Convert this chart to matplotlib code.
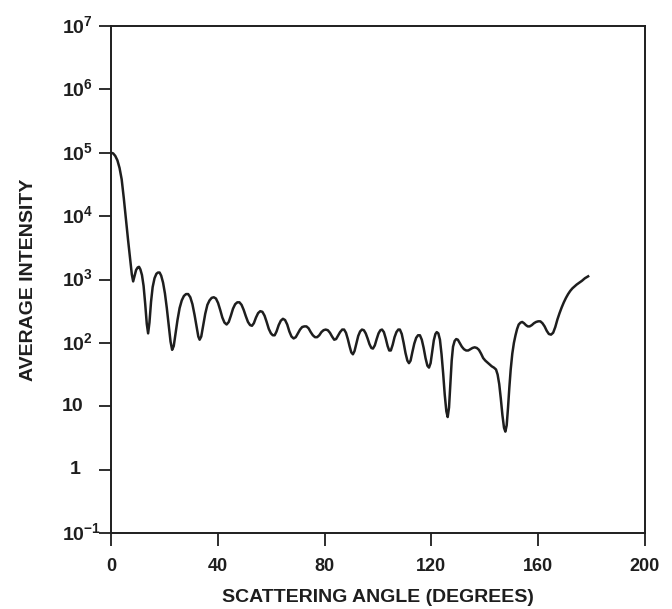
import numpy as np
import matplotlib
matplotlib.use("Agg")
import matplotlib.pyplot as plt
import matplotlib.transforms as mtransforms
from matplotlib.ticker import FixedLocator, NullFormatter, NullLocator

# Scattering angle (degrees) and log10 of average intensity
angle = [
    0.0, 0.8, 1.6, 2.4, 3.2, 4.0, 4.8, 5.6, 6.4, 7.2, 7.8, 8.3, 8.8, 9.4, 10.0,
    10.5, 11.0, 11.6, 12.2, 12.8, 13.4, 13.9, 14.4, 15.0, 15.6, 16.3, 17.0, 17.6,
    18.2, 18.8, 19.5, 20.2, 20.9, 21.6, 22.3, 22.9, 23.5, 24.2, 24.9, 25.7, 26.5,
    27.3, 28.1, 28.9, 29.7, 30.5, 31.3, 32.1, 32.7, 33.2, 33.8, 34.5, 35.3, 36.1,
    36.9, 37.7, 38.5, 39.3, 40.1, 40.9, 41.7, 42.5, 43.3, 44.1, 44.9, 45.7, 46.5,
    47.3, 48.1, 48.9, 49.7, 50.5, 51.3, 52.1, 52.8, 53.5, 54.3, 55.1, 55.9, 56.7,
    57.5, 58.3, 59.1, 59.9, 60.6, 61.3, 62.0, 62.8, 63.6, 64.4, 65.2, 66.0, 66.8,
    67.6, 68.4, 69.2, 70.0, 70.8, 71.6, 72.4, 73.2, 74.0, 74.8, 75.6, 76.4, 77.2,
    78.0, 78.8, 79.6, 80.4, 81.2, 82.0, 82.8, 83.6, 84.3, 85.0, 85.8, 86.6, 87.3,
    88.0, 88.7, 89.4, 90.0, 90.6, 91.2, 91.9, 92.6, 93.3, 94.0, 94.7, 95.4, 96.1,
    96.8, 97.5, 98.1, 98.8, 99.5, 100.2, 100.9, 101.5, 102.2, 102.9, 103.6, 104.2,
    104.8, 105.5, 106.2, 106.9, 107.6, 108.2, 108.9, 109.6, 110.3, 111.0, 111.6,
    112.2, 112.9, 113.6, 114.3, 115.0, 115.7, 116.4, 117.1, 117.8, 118.5, 119.1,
    119.7, 120.3, 120.9, 121.5, 122.0, 122.6, 123.2, 123.8, 124.4, 125.0, 125.6,
    126.1, 126.6, 127.1, 127.6, 128.1, 128.7, 129.3, 129.9, 130.6, 131.4, 132.2,
    133.0, 133.8, 134.6, 135.4, 136.2, 137.0, 137.8, 138.6, 139.4, 140.2, 141.0,
    141.8, 142.6, 143.4, 144.2, 144.8, 145.4, 146.0, 146.6, 147.2, 147.7, 148.2,
    148.7, 149.2, 149.7, 150.3, 150.9, 151.5, 152.1, 152.7, 153.4, 154.0, 154.7,
    155.4, 156.1, 156.8, 157.6, 158.4, 159.2, 160.0, 160.8, 161.6, 162.4, 163.2,
    164.0, 164.8, 165.6, 166.4, 167.2, 168.0, 168.8, 169.6, 170.4, 171.2, 172.0,
    172.8, 173.6, 174.4, 175.4, 176.4, 177.5, 178.7]
log_intensity = [
    5.00, 4.99, 4.95, 4.88, 4.76, 4.58, 4.28, 3.95, 3.62, 3.32, 3.08, 2.97, 3.05,
    3.15, 3.19, 3.20, 3.16, 3.07, 2.90, 2.62, 2.30, 2.15, 2.32, 2.65, 2.88, 3.02,
    3.09, 3.11, 3.11, 3.06, 2.95, 2.78, 2.55, 2.28, 2.02, 1.89, 1.95, 2.15, 2.36,
    2.55, 2.67, 2.74, 2.77, 2.77, 2.72, 2.61, 2.44, 2.24, 2.10, 2.05, 2.10, 2.27,
    2.46, 2.60, 2.67, 2.71, 2.72, 2.70, 2.63, 2.52, 2.40, 2.32, 2.29, 2.33, 2.43,
    2.54, 2.61, 2.64, 2.64, 2.60, 2.52, 2.42, 2.33, 2.28, 2.27, 2.31, 2.40, 2.47,
    2.50, 2.49, 2.43, 2.33, 2.22, 2.15, 2.12, 2.12, 2.18, 2.28, 2.35, 2.38, 2.36,
    2.29, 2.18, 2.10, 2.07, 2.09, 2.15, 2.21, 2.25, 2.26, 2.26, 2.23, 2.17, 2.12,
    2.09, 2.09, 2.12, 2.17, 2.20, 2.21, 2.20, 2.16, 2.10, 2.05, 2.06, 2.11, 2.17,
    2.21, 2.21, 2.16, 2.06, 1.94, 1.85, 1.82, 1.87, 1.99, 2.11, 2.18, 2.21, 2.20,
    2.15, 2.07, 1.98, 1.92, 1.91, 1.96, 2.06, 2.15, 2.20, 2.21, 2.17, 2.07, 1.95,
    1.88, 1.88, 1.97, 2.09, 2.17, 2.21, 2.21, 2.14, 2.00, 1.84, 1.72, 1.68, 1.72,
    1.86, 1.99, 2.08, 2.12, 2.12, 2.05, 1.92, 1.76, 1.64, 1.61, 1.68, 1.86, 2.04,
    2.14, 2.17, 2.15, 2.05, 1.82, 1.52, 1.18, 0.92, 0.83, 0.98, 1.35, 1.72, 1.94,
    2.03, 2.06, 2.05, 2.00, 1.94, 1.90, 1.88, 1.88, 1.90, 1.92, 1.93, 1.92, 1.89,
    1.83, 1.76, 1.72, 1.69, 1.66, 1.63, 1.61, 1.58, 1.50, 1.35, 1.12, 0.86, 0.66,
    0.60, 0.70, 0.98, 1.30, 1.58, 1.83, 2.00, 2.12, 2.22, 2.29, 2.32, 2.33, 2.31,
    2.28, 2.26, 2.26, 2.28, 2.31, 2.33, 2.34, 2.34, 2.31, 2.26, 2.19, 2.14, 2.13,
    2.16, 2.25, 2.37, 2.47, 2.56, 2.64, 2.71, 2.77, 2.82, 2.86, 2.89, 2.92, 2.95,
    2.98, 3.02, 3.05]
intensity = [10.0 ** v for v in log_intensity]

x_ticks = [0, 40, 80, 120, 160, 200]
y_ticks = [1e-1, 1, 10, 1e2, 1e3, 1e4, 1e5, 1e6, 1e7]
y_tick_labels = [r'$10^{-1}$', '1', '10', r'$10^{2}$', r'$10^{3}$', r'$10^{4}$',
                 r'$10^{5}$', r'$10^{6}$', r'$10^{7}$']

plt.rcParams['font.family'] = ['Liberation Sans', 'DejaVu Sans']
plt.rcParams['font.weight'] = 'bold'
plt.rcParams['mathtext.fontset'] = 'custom'
plt.rcParams['mathtext.rm'] = 'Liberation Sans:bold'
plt.rcParams['mathtext.it'] = 'Liberation Sans:bold'
plt.rcParams['mathtext.bf'] = 'Liberation Sans:bold'
plt.rcParams['mathtext.default'] = 'rm'

ink = '#1e1e1e'
W, H = 672, 609
fig = plt.figure(figsize=(W / 100, H / 100), dpi=100)
L, R, T, B = 111, 645, 26, 533
ax = fig.add_axes([L / W, 1 - B / H, (R - L) / W, (B - T) / H])

ax.plot(angle, intensity, color=ink, lw=1.8, solid_joinstyle='round')
ax.set_yscale('log')
ax.set_xlim(0, 200)
ax.set_ylim(1e-1, 1e7)

ax.xaxis.set_major_locator(FixedLocator(x_ticks))
ax.set_xticklabels([str(t) for t in x_ticks])
ax.yaxis.set_major_locator(FixedLocator(y_ticks))
ax.yaxis.set_major_formatter(NullFormatter())
ax.yaxis.set_minor_locator(NullLocator())
ax.yaxis.set_minor_formatter(NullFormatter())

ax.tick_params(axis='both', direction='out', length=9, width=1.3, colors=ink,
               labelcolor=ink)
ax.tick_params(axis='x', labelsize=13, pad=9)
for s in ax.spines.values():
    s.set_linewidth(1.4)
    s.set_color(ink)

# y tick labels: the "10" base sits at a fixed place, the exponent to its right
ytrans = mtransforms.blended_transform_factory(fig.transFigure, ax.transData)
for val, lab in zip(y_ticks, y_tick_labels):
    if lab == '1':
        ax.text(75 / W, val, lab, transform=ytrans, ha='center', va='center',
                fontsize=14, color=ink, fontweight='bold')
    else:
        ax.text(62 / W, val, lab, transform=ytrans, ha='left', va='center',
                fontsize=14, color=ink, fontweight='bold')

fig.text((L + R) / 2 / W, 1 - 597 / H, 'SCATTERING ANGLE (DEGREES)', ha='center',
         va='center', fontsize=14, fontweight='bold', color=ink)
fig.text(29 / W, 1 - (T + B) / 2 / H, 'AVERAGE INTENSITY', ha='center', va='center',
         rotation=90, fontsize=14, fontweight='bold', color=ink)

fig.savefig('out.png', dpi=100, facecolor='white')
